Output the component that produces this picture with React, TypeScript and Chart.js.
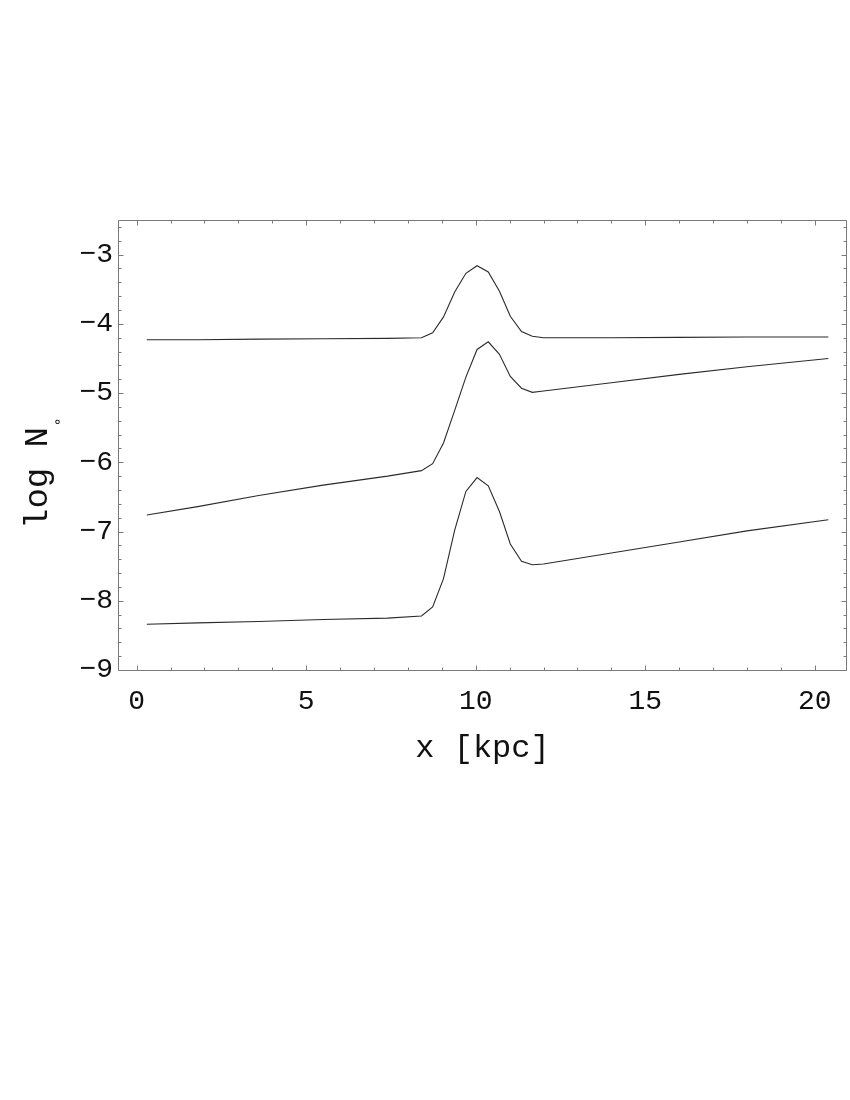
import React, { useEffect, useRef } from "react";
import { Chart, registerables } from "chart.js";

Chart.register(...registerables);

// x positions (kpc) of the sampled points
const xKpc = [0.3, 1.8, 3.6, 5.5, 7.4, 8.4, 8.73, 9.05, 9.38, 9.71, 10.04, 10.37, 10.7, 11.02, 11.35, 11.67, 12.0, 14, 16, 18, 20.4];
// log N for the three curves
const topCurve = [-4.23, -4.23, -4.22, -4.215, -4.21, -4.2, -4.13, -3.9, -3.54, -3.27, -3.16, -3.25, -3.53, -3.89, -4.11, -4.18, -4.2, -4.2, -4.195, -4.19, -4.19];
const middleCurve = [-6.76, -6.64, -6.48, -6.33, -6.2, -6.12, -6.02, -5.72, -5.25, -4.77, -4.37, -4.26, -4.44, -4.76, -4.93, -4.99, -4.97, -4.85, -4.73, -4.62, -4.5];
const bottomCurve = [-8.34, -8.32, -8.3, -8.27, -8.25, -8.22, -8.09, -7.68, -6.98, -6.42, -6.22, -6.34, -6.71, -7.18, -7.43, -7.48, -7.47, -7.31, -7.15, -6.99, -6.83];

const xTicks = [0, 5, 10, 15, 20];
const yTicks = [-9, -8, -7, -6, -5, -4, -3];
const xMinorTicks = [0, 1, 2, 3, 4, 5, 6, 7, 8, 9, 10, 11, 12, 13, 14, 15, 16, 17, 18, 19, 20];
const yMinorTicks = [-9, -8.8, -8.6, -8.4, -8.2, -8, -7.8, -7.6, -7.4, -7.2, -7, -6.8, -6.6, -6.4, -6.2, -6, -5.8, -5.6, -5.4, -5.2, -5, -4.8, -4.6, -4.4, -4.2, -4, -3.8, -3.6, -3.4, -3.2, -3, -2.8, -2.6];

const xTitle = "x [kpc]";
const yTitle = "log N";
const ySubscript = "\u2218";

const FRAME = "#7a7a7a";

const framePlugin = {
  id: "framePlugin",
  afterDraw(chart: any) {
    const { ctx, chartArea, scales } = chart;
    const { left, right, top, bottom } = chartArea;
    const xs = scales.x;
    const ys = scales.y;
    ctx.save();
    ctx.strokeStyle = FRAME;
    ctx.lineWidth = 1;
    ctx.beginPath();
    ctx.rect(left + 0.5, top + 0.5, right - left - 1, bottom - top);
    ctx.stroke();
    ctx.beginPath();
    xMinorTicks.forEach((v) => {
      const px = Math.round(xs.getPixelForValue(v)) + 0.5;
      const len = xTicks.includes(v) ? 5 : 3;
      ctx.moveTo(px, bottom + 0.5);
      ctx.lineTo(px, bottom + 0.5 - len);
      ctx.moveTo(px, top + 0.5);
      ctx.lineTo(px, top + 0.5 + len);
    });
    yMinorTicks.forEach((v) => {
      const py = Math.round(ys.getPixelForValue(v)) + 0.5;
      const major = yTicks.some((t) => Math.abs(t - v) < 1e-6);
      const len = major ? 5 : 3;
      ctx.moveTo(left + 0.5, py);
      ctx.lineTo(left + 0.5 + len, py);
      ctx.moveTo(right - 0.5, py);
      ctx.lineTo(right - 0.5 - len, py);
    });
    ctx.stroke();

    // axis titles
    ctx.fillStyle = "#111";
    ctx.font = "32px 'Liberation Mono'";
    ctx.textAlign = "center";
    ctx.textBaseline = "alphabetic";
    ctx.fillText(xTitle, (left + right) / 2, 757);

    ctx.translate(47, 529);
    ctx.rotate(-Math.PI / 2);
    ctx.textAlign = "left";
    ctx.font = "34px 'Liberation Mono'";
    ctx.fillText(yTitle, 0, 0);
    const w = ctx.measureText(yTitle).width;
    ctx.font = "14px 'DejaVu Sans'";
    ctx.textAlign = "center";
    ctx.textBaseline = "middle";
    ctx.fillText(ySubscript, w + 5, 11);
    ctx.restore();
  },
};

export default function App() {
  const ref = useRef<HTMLCanvasElement>(null);
  useEffect(() => {
    if (!ref.current) return;
    const mk = (data: number[]) => ({
      data: xKpc.map((x, i) => ({ x, y: data[i] })),
      borderColor: "#2b2b2b",
      borderWidth: 1.1,
      pointRadius: 0,
      tension: 0,
      fill: false,
    });
    const chart = new Chart(ref.current, {
      type: "line",
      data: {
        datasets: [mk(topCurve), mk(middleCurve), mk(bottomCurve)],
      },
      options: {
        responsive: false,
        animation: false,
        devicePixelRatio: 1,
        layout: { padding: { left: 0, right: 3, top: 220, bottom: 330 } },
        plugins: { legend: { display: false }, tooltip: { enabled: false } },
        scales: {
          x: {
            type: "linear",
            min: -0.55,
            max: 20.95,
            grid: { display: false, drawTicks: false },
            border: { display: false },
            afterBuildTicks: (s: any) => {
              s.ticks = xTicks.map((v) => ({ value: v }));
            },
            afterFit: (s: any) => {
              s.height = 100;
            },
            ticks: {
              color: "#111",
              padding: 15,
              maxRotation: 0,
              autoSkip: false,
              font: { family: "'Liberation Mono'", size: 28 },
              callback: (v: any) => String(v),
            },
          },
          y: {
            type: "linear",
            min: -9,
            max: -2.5,
            grid: { display: false, drawTicks: false },
            border: { display: false },
            afterBuildTicks: (s: any) => {
              s.ticks = yTicks.map((v) => ({ value: v }));
            },
            afterFit: (s: any) => {
              s.width = 118;
            },
            ticks: {
              color: "#111",
              padding: 5,
              autoSkip: false,
              font: { family: "'Liberation Mono'", size: 28 },
              callback: (v: any) => (Number(v) < 0 ? "\u2212" + Math.abs(Number(v)) : String(v)),
            },
          },
        },
      },
      plugins: [framePlugin],
    });
    return () => chart.destroy();
  }, []);
  return (
    <div style={{ position: "absolute", left: 0, top: 0, width: 850, height: 1100, background: "#fff" }}>
      <canvas ref={ref} width={850} height={1100} style={{ width: 850, height: 1100 }} />
    </div>
  );
}
